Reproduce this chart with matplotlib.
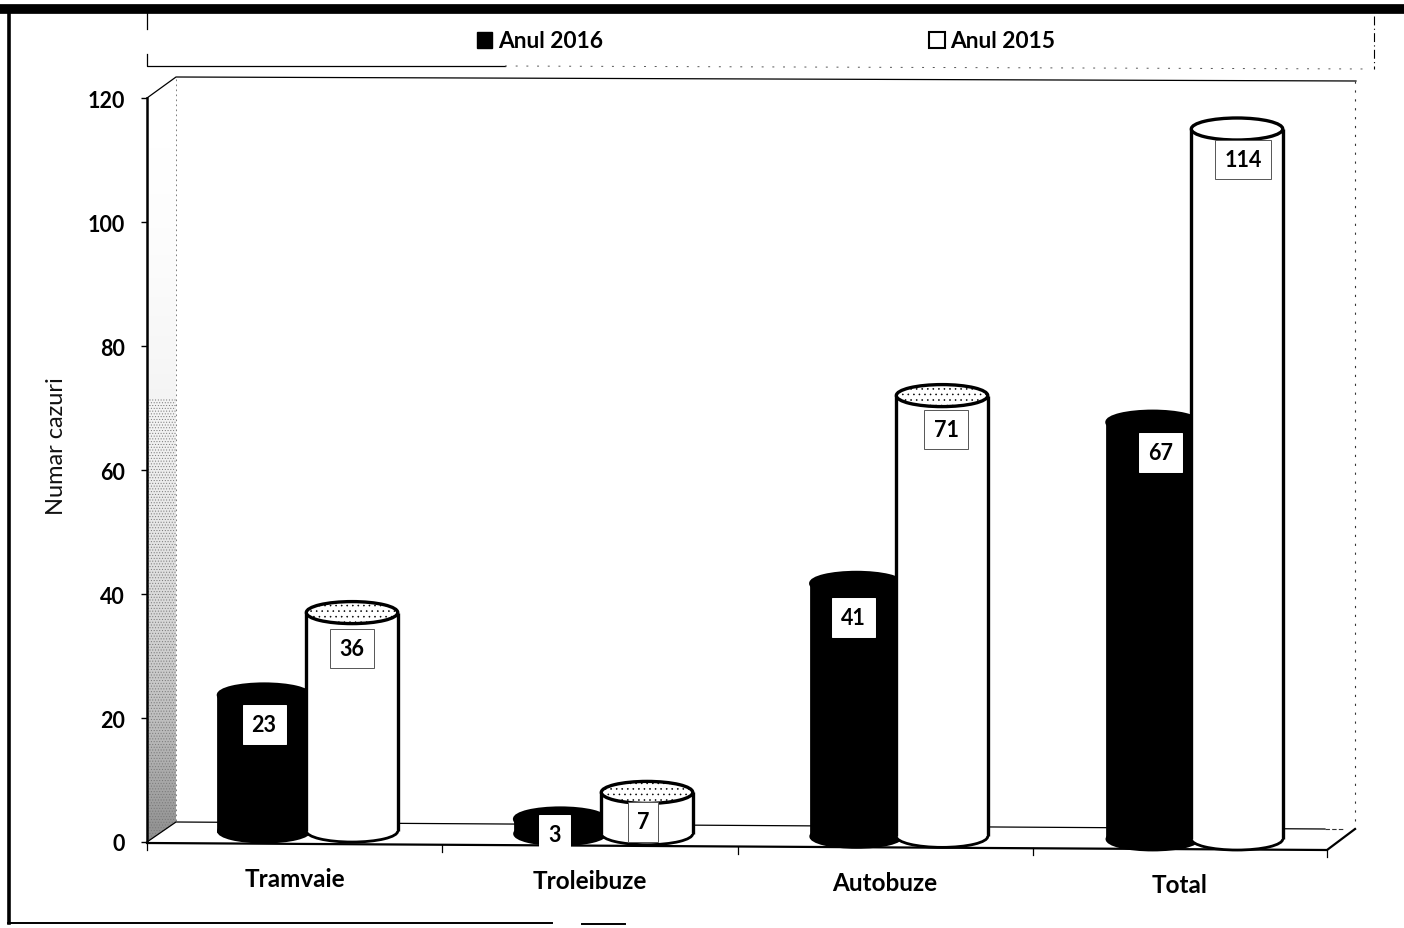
import numpy as np
import matplotlib
matplotlib.use("Agg")
import matplotlib.pyplot as plt
from matplotlib.patches import Ellipse, Patch, Polygon

categories = ["Tramvaie", "Troleibuze", "Autobuze", "Total"]
values_2016 = [23, 3, 41, 67]
values_2015 = [36, 7, 71, 114]
y_ticks = [0, 20, 40, 60, 80, 100, 120]
legend_labels = ["Anul 2016", "Anul 2015"]
y_label = "Numar cazuri"

# Data-label nudges in pixels (label placement only)
nudge_2016 = [(0, 0), (-6, -2), (-3, -5), (8, -1)]
nudge_2015 = [(0, -5), (-4, -2), (4, -3), (6, 1)]

W, H = 1404, 929
plt.rcParams["font.family"] = ["Lato", "DejaVu Sans"]
plt.rcParams["hatch.linewidth"] = 0.4
fig = plt.figure(figsize=(W / 100, H / 100), dpi=100, facecolor="white")

# Page furniture in pixel coordinates
bg = fig.add_axes([0, 0, 1, 1], zorder=0)
bg.set_xlim(0, W); bg.set_ylim(H, 0); bg.axis("off")
bg.plot([0, W], [9.5, 9.5], color="k", lw=7, solid_capstyle="butt")
bg.plot([9, 9], [9, 924], color="k", lw=2.6)
bg.plot([8, 552], [924, 924], color="k", lw=1.4)
bg.plot([582, 625], [925, 925], color="k", lw=1.4)
# legend frame
bg.plot([147, 147], [12, 30], color="k", lw=0.9)
bg.plot([147, 147, 505], [55, 67, 67], color="k", lw=0.9)
bg.plot([505, 1370], [67, 70], color="#555555", lw=0.7, ls=(0, (2, 9)))
bg.plot([1374, 1374], [17, 70], color="k", lw=0.8, ls=(0, (8, 3, 1, 3)))
# 3-D wall and floor
gy = np.linspace(0, 1, 200)[:, None] ** 2.0
wall = bg.imshow(gy, cmap="Greys", vmin=0, vmax=1.9, aspect="auto",
                 extent=[147, 177, 846, 80], zorder=1)
wall.set_clip_path(Polygon([[147, 99], [176, 80], [176, 823], [147, 843]],
                           transform=bg.transData))
bg.add_patch(Polygon([[147, 400], [176, 400], [176, 823], [147, 843]], fill=False,
                     hatch="......", ec="#777777", lw=0, zorder=1.5))
bg.set_xlim(0, W); bg.set_ylim(H, 0)
bg.plot([147, 176, 1356], [99, 78, 82], color="k", lw=0.9, zorder=2)
bg.plot([176, 176], [80, 823], color="#666666", lw=0.6, ls=(0, (2, 4)), zorder=2)
bg.plot([1355, 1355], [82, 830], color="#333333", lw=0.8, ls=(0, (2, 6)), zorder=2)
bg.plot([147, 176, 1325], [843, 823, 830], color="k", lw=0.9, zorder=2)
bg.plot([1325, 1345], [830, 830], color="#333333", lw=0.8, ls=(0, (4, 2)), zorder=2)
bg.plot([147, 1327, 1355], [844, 851, 830], color="k", lw=1.6, zorder=2)
for tx, ty in zip([147, 442, 738, 1033, 1327], [844, 846, 848, 849, 851]):
    bg.plot([tx, tx], [ty, ty + 7], color="k", lw=0.9, zorder=2)

# Chart axes
ax = fig.add_axes([147 / W, 1 - 843 / H, 1180 / W, 744 / H], zorder=2)
ax.patch.set_alpha(0)
ax.set_xlim(0, 4); ax.set_ylim(0, 120)
for s in ["top", "right", "bottom"]:
    ax.spines[s].set_visible(False)
ax.spines["left"].set_linewidth(1.8)
ax.set_xticks([])
ax.set_yticks(y_ticks)
ax.tick_params(axis="y", length=4, width=1, pad=12)
for lab in ax.get_yticklabels():
    lab.set_fontsize(15.5); lab.set_fontweight("bold")
ax.set_ylabel(y_label, fontsize=17, labelpad=15, color="#111111", y=0.533)

BAR_W = 0.31
ELL_H = 3.55


def cylinder(xc, value, base, dark, z):
    top = value + (0.7 if dark else 1.0)
    body = "black" if dark else "white"
    ax.add_patch(Ellipse((xc, base), BAR_W, ELL_H, fc=body, ec="k", lw=2,
                         zorder=z, clip_on=False))
    ax.bar(xc, top - base, BAR_W, bottom=base, color=body, zorder=z + 0.1,
           clip_on=False, edgecolor="k" if dark else body, linewidth=2 if dark else 0)
    if not dark:
        ax.vlines([xc - BAR_W / 2, xc + BAR_W / 2], base, top, color="k", lw=2.4,
                  zorder=z + 0.2)
    ax.add_patch(Ellipse((xc, top), BAR_W, ELL_H, fc="black" if dark else "white",
                         ec="k", lw=2.4, zorder=z + 0.3, clip_on=False,
                         hatch=None if dark or value > 100 else "..."))


def data_label(xc, value, dark, nudge):
    drop = -min(18, 2.2 * value)
    # pixels to points at dpi=100
    ax.annotate(str(value), xy=(xc, value),
                xytext=(nudge[0] * 0.72, drop + nudge[1] * 0.72),
                textcoords="offset points", ha="center", va="center",
                fontsize=15.5, fontweight="bold", zorder=20,
                bbox=dict(boxstyle="square,pad=0.42", fc="white",
                          ec="white" if dark else "#555555", lw=0.7))


for i, cat in enumerate(categories):
    base = 1.77 - 0.43 * i
    x16, x15 = 0.397 + 1.004 * i, i + 0.695
    cylinder(x16, values_2016[i], base, True, 5)
    cylinder(x15, values_2015[i], base, False, 6)
    data_label(x16, values_2016[i], True, nudge_2016[i])
    data_label(x15, values_2015[i], False, nudge_2015[i])
    ax.annotate(cat, xy=(i + 0.5, 0), xytext=(0, -26.2 - 1.45 * i),
                textcoords="offset points", ha="center", va="center",
                fontsize=17.5, fontweight="bold", annotation_clip=False)

handles = [Patch(fc="black", ec="black"), Patch(fc="white", ec="black", lw=1.5)]
fig.legend(handles, legend_labels, ncols=2, frameon=False,
           loc="center", bbox_to_anchor=(766 / W, 1 - 42 / H),
           prop={"size": 16.4, "weight": "bold"}, handlelength=0.7, handleheight=0.7,
           handletextpad=0.25, columnspacing=14.3)

fig.savefig("out.png", dpi=100)
